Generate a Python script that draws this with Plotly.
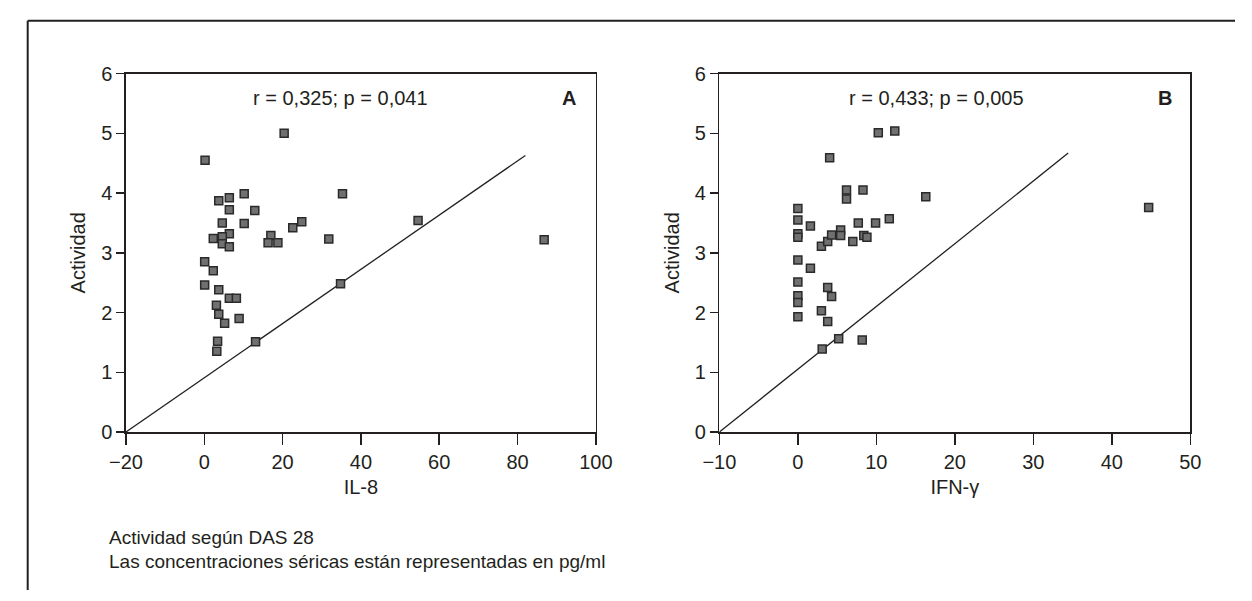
import plotly.graph_objects as go

W, H = 1252, 601

# Panel A: IL-8 vs Actividad
il8_x = [0.2, 20.4, 10.2, 3.7, 6.4, 6.4, 12.9, 4.6, 10.2, 6.4, 4.6, 2.3, 4.6, 6.4,
         17.0, 16.3, 18.8, 22.6, 24.9, 31.8, 35.3, 0.1, 2.3, 0.1, 3.7, 6.4, 8.2,
         3.1, 3.7, 8.9, 5.2, 3.4, 3.2, 13.1, 34.8, 54.6, 86.8]
il8_y = [4.55, 5.00, 3.99, 3.87, 3.92, 3.72, 3.71, 3.50, 3.49, 3.32, 3.27, 3.24, 3.15, 3.10,
         3.29, 3.17, 3.17, 3.42, 3.52, 3.23, 3.99, 2.85, 2.70, 2.46, 2.38, 2.24, 2.24,
         2.12, 1.97, 1.90, 1.82, 1.52, 1.35, 1.51, 2.48, 3.54, 3.22]
il8_fit_x = [-20, 82]
il8_fit_y = [0, 4.63]

# Panel B: IFN-gamma vs Actividad
ifn_x = [0, 0, 0, 0, 0, 0, 0, 0, 0, 1.6, 1.6, 3.0, 3.8, 4.3, 4.05, 3.8, 4.3, 3.0,
         3.8, 3.1, 5.2, 8.2, 5.45, 5.45, 6.2, 6.2, 7.0, 7.7, 8.3, 8.4, 8.8, 9.9,
         10.25, 11.65, 12.35, 16.3, 44.7]
ifn_y = [3.74, 3.55, 3.32, 3.26, 2.88, 2.51, 2.28, 2.17, 1.93, 3.45, 2.74, 3.11, 3.19, 3.30,
         4.59, 2.42, 2.27, 2.03, 1.85, 1.39, 1.56, 1.54, 3.38, 3.29, 4.05, 3.90, 3.19,
         3.50, 4.05, 3.29, 3.26, 3.50, 5.01, 3.57, 5.04, 3.94, 3.76]
ifn_fit_x = [-10, 34.45]
ifn_fit_y = [0, 4.67]

xA_range = [-20, 100]
xA_ticks = [-20, 0, 20, 40, 60, 80, 100]
xA_labels = ["\u221220", "0", "20", "40", "60", "80", "100"]
xB_range = [-10, 50]
xB_ticks = [-10, 0, 10, 20, 30, 40, 50]
xB_labels = ["\u221210", "0", "10", "20", "30", "40", "50"]
y_ticks = [0, 1, 2, 3, 4, 5, 6]

INK = "#231f20"
FONT = "Liberation Sans, Arial, sans-serif"

def px(x):
    return x / W

def py(y):
    return 1 - y / H

marker = dict(symbol="square", size=8, color="#707070", line=dict(color="#2a2a2a", width=1.5))

fig = go.Figure()
fig.add_trace(go.Scatter(x=il8_fit_x, y=il8_fit_y, mode="lines",
                         line=dict(color=INK, width=1.3), xaxis="x", yaxis="y", showlegend=False))
fig.add_trace(go.Scatter(x=il8_x, y=il8_y, mode="markers", marker=marker,
                         xaxis="x", yaxis="y", showlegend=False))
fig.add_trace(go.Scatter(x=ifn_fit_x, y=ifn_fit_y, mode="lines",
                         line=dict(color=INK, width=1.3), xaxis="x2", yaxis="y2", showlegend=False))
fig.add_trace(go.Scatter(x=ifn_x, y=ifn_y, mode="markers", marker=marker,
                         xaxis="x2", yaxis="y2", showlegend=False))

ydom = [py(437), py(65)]
common_x = dict(showline=True, linecolor=INK, linewidth=1.5, mirror=True, ticks="outside",
                ticklen=11, tickwidth=1.5, tickcolor=INK, showgrid=False, zeroline=False,
                tickfont=dict(size=20, color=INK, family=FONT),
                title_font=dict(size=20, color=INK, family=FONT), title_standoff=8)
common_y = dict(showline=True, linecolor=INK, linewidth=1.5, mirror=True, ticks="outside",
                ticklen=8, tickwidth=1.5, tickcolor=INK, showgrid=False, zeroline=False,
                range=[0, 6], tickvals=y_ticks, domain=ydom,
                tickfont=dict(size=20, color=INK, family=FONT),
                title_font=dict(size=20, color=INK, family=FONT), title_standoff=10)

fig.update_layout(
    width=W, height=H,
    margin=dict(l=0, r=0, t=0, b=0),
    paper_bgcolor="white", plot_bgcolor="white",
    font=dict(family=FONT, color=INK, size=20),
    hovermode=False,
    xaxis=dict(domain=[px(112), px(595)], range=xA_range, tickvals=xA_ticks, ticktext=xA_labels,
               title_text="IL-8", anchor="y", **common_x),
    yaxis=dict(anchor="x", title_text="Actividad", **common_y),
    xaxis2=dict(domain=[px(722), px(1206)], range=xB_range, tickvals=xB_ticks, ticktext=xB_labels,
                title_text="IFN-\u03b3", anchor="y2", **common_x),
    yaxis2=dict(anchor="x2", title_text="Actividad", **common_y),
)

annots = [
    dict(x=px(333), y=py(90), text="r = 0,325; p = 0,041", size=20, xanchor="center"),
    dict(x=px(567), y=py(90), text="<b>A</b>", size=20, xanchor="center"),
    dict(x=px(945), y=py(90), text="r = 0,433; p = 0,005", size=20, xanchor="center"),
    dict(x=px(1180), y=py(90), text="<b>B</b>", size=20, xanchor="center"),
    dict(x=px(93), y=py(546), text="Actividad según DAS 28", size=19, xanchor="left"),
    dict(x=px(93), y=py(571), text="Las concentraciones séricas están representadas en pg/ml",
         size=19, xanchor="left"),
]
for a in annots:
    fig.add_annotation(xref="paper", yref="paper", showarrow=False, yanchor="middle",
                       x=a["x"], y=a["y"], text=a["text"], xanchor=a["xanchor"],
                       font=dict(family=FONT, color=INK, size=a["size"]))

# outer frame: left and top lines
fig.add_shape(type="line", xref="paper", yref="paper", x0=px(11), x1=px(11), y0=py(10), y1=py(601),
              line=dict(color=INK, width=2))
fig.add_shape(type="line", xref="paper", yref="paper", x0=px(11), x1=px(1252), y0=py(10), y1=py(10),
              line=dict(color=INK, width=2))

fig.write_html("out.html", config={"displayModeBar": False, "staticPlot": True},
               post_script="document.body.style.margin='0';document.body.style.padding='0';"
                           "document.documentElement.style.overflow='hidden';")
